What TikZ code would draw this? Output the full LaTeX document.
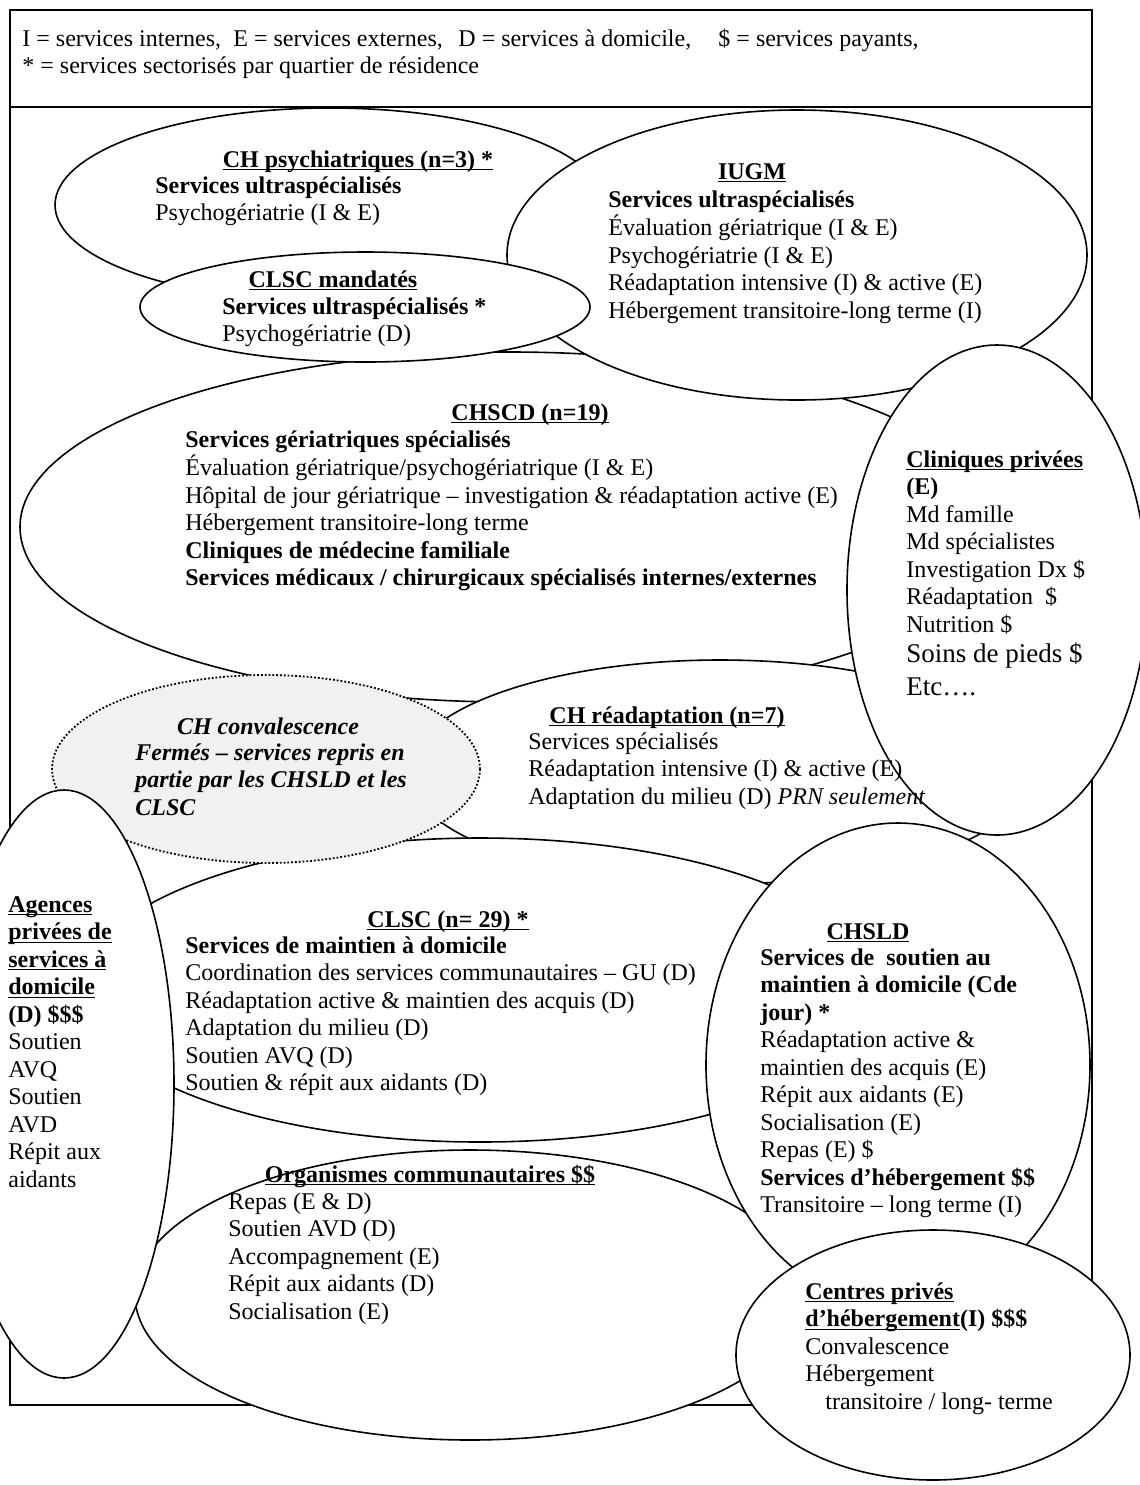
\documentclass[tikz,border=0pt]{standalone}
\usepackage{fontspec}
\setmainfont{Liberation Serif}
\usepackage{tikz}
\usetikzlibrary{positioning}

\newcommand{\lignes}[1]{\begin{tabular}[t]{@{}l@{}}#1\end{tabular}}
\newcommand{\souligne}[1]{\underline{\smash{#1}}}

\begin{document}
\begin{tikzpicture}[x=0.5pt, y=-0.5pt,
    font=\fontsize{12}{13.75}\selectfont,
    cadre/.style={draw, line width=1.3pt, fill=white},
    zone/.style={draw, line width=0.8pt, fill=white},
    ferme/.style={draw, densely dotted, line width=0.9pt, fill=gray!11},
    txt/.style={anchor=base west, inner sep=0pt},
    titre/.style={anchor=base, inner sep=0pt, font=\fontsize{12}{13.75}\selectfont\bfseries}
]
    \useasboundingbox (0,0) rectangle (1140,1485);
    \clip (0,0) rectangle (1140,1485);
    \path[cadre] (10,10) rectangle (1092,107);
    \path[cadre] (10,107) rectangle (1092,1405);

    \path[zone] (330,205) ellipse (275 and 97);
    \path[zone] (510,527) ellipse (490 and 175);
    \path[zone] (797,255) ellipse (290 and 145);
    \path[zone] (365,307) ellipse (225 and 55);
    \path[zone] (720,772) ellipse (312 and 112);
    \path[zone] (997,590) ellipse (150 and 245);
    \path[zone] (480,990) ellipse (400 and 152);
    \path[ferme] (266,769) ellipse (214 and 94);
    \path[zone] (470,1295) ellipse (335 and 145);
    \path[zone] (64,1084) ellipse (110 and 294);
    \path[zone] (898,1065) ellipse (192 and 242);
    \path[zone] (933,1355) ellipse (197 and 125);

    \node[txt] (legende) at (22,46) {\lignes{\makebox[105.5pt][l]{I = services internes,}\makebox[112.5pt][l]{E = services externes,}\makebox[130pt][l]{D = services à domicile,}\$ = services payants,\\{}* = services sectorisés par quartier de résidence}};

    \node[titre] (psyT) at (358,167) {\souligne{CH psychiatriques (n=3) *}};
    \node[txt] (psy) at (155,193) {\lignes{\textbf{Services ultraspécialisés}\\Psychogériatrie (I \& E)}};

    \node[titre] (iugmT) at (752,179) {\souligne{IUGM}};
    \node[txt] (iugm) at (608,207) {\lignes{\textbf{Services ultraspécialisés}\\Évaluation gériatrique (I \& E)\\Psychogériatrie (I \& E)\\Réadaptation intensive (I) \& active (E)\\Hébergement transitoire-long terme (I)}};

    \node[titre] (mandT) at (333,287) {\souligne{CLSC mandatés}};
    \node[txt] (mand) at (222,314) {\lignes{\textbf{Services ultraspécialisés *}\\Psychogériatrie (D)}};

    \node[titre] (chscdT) at (530,420) {\souligne{CHSCD (n=19)}};
    \node[txt] (chscd) at (185,447) {\lignes{\textbf{Services gériatriques spécialisés}\\Évaluation gériatrique/psychogériatrique (I \& E)\\Hôpital de jour gériatrique – investigation \& réadaptation active (E)\\Hébergement transitoire-long terme\\\textbf{Cliniques de médecine familiale}\\\textbf{Services médicaux / chirurgicaux spécialisés internes/externes}}};

    \node[txt] (clin) at (906,467) {\lignes{\textbf{\souligne{Cliniques privées}}\\\textbf{(E)}\\Md famille\\Md spécialistes\\Investigation Dx \$\\Réadaptation\ \ \$\\Nutrition \$\\[1.5pt]\fontsize{13.5}{16.5}\selectfont Soins de pieds \$\\[2.5pt]\fontsize{13.5}{16.5}\selectfont Etc….}};

    \node[titre, font=\fontsize{12}{13.75}\selectfont\bfseries\itshape] (convT) at (268,734) {CH convalescence};
    \node[txt, font=\fontsize{12}{13.75}\selectfont\bfseries\itshape] (conv) at (135,760) {\lignes{Fermés – services repris en\\partie par les CHSLD et les\\CLSC}};

    \node[titre] (readT) at (667,723) {\souligne{CH réadaptation (n=7)}};
    \node[txt] (read) at (528,749) {\lignes{Services spécialisés\\Réadaptation intensive (I) \& active (E)\\Adaptation du milieu (D) \textit{PRN seulement}}};

    \node[txt] (agen) at (8,912) {\lignes{\textbf{\souligne{Agences}}\\\textbf{\souligne{privées de}}\\\textbf{\souligne{services à}}\\\textbf{\souligne{domicile}}\\\textbf{(D) \$\$\$}\\Soutien\\AVQ\\Soutien\\AVD\\Répit aux\\aidants}};

    \node[titre] (clscT) at (448,927) {\souligne{CLSC (n= 29) *}};
    \node[txt] (clsc) at (185,953) {\lignes{\textbf{Services de maintien à domicile}\\Coordination des services communautaires – GU (D)\\Réadaptation active \& maintien des acquis (D)\\Adaptation du milieu (D)\\Soutien AVQ (D)\\Soutien \& répit aux aidants (D)}};

    \node[titre] (chsldT) at (868,939) {\souligne{CHSLD}};
    \node[txt] (chsld) at (760,965) {\lignes{\textbf{Services de\ \ soutien au}\\\textbf{maintien à domicile (Cde}\\\textbf{jour) *}\\Réadaptation active \&\\maintien des acquis (E)\\Répit aux aidants (E)\\Socialisation (E)\\Repas (E) \$\\\textbf{Services d’hébergement \$\$}\\Transitoire – long terme (I)}};

    \node[titre] (orgaT) at (430,1182) {\souligne{Organismes communautaires \$\$}};
    \node[txt] (orga) at (228,1209) {\lignes{Repas (E \& D)\\Soutien AVD (D)\\Accompagnement (E)\\Répit aux aidants (D)\\Socialisation (E)}};

    \node[txt] (cent) at (805,1299) {\lignes{\textbf{\souligne{Centres privés}}\\\textbf{\souligne{d’hébergement}(I) \$\$\$}\\Convalescence\\Hébergement\\\hspace*{10pt}transitoire / long- terme}};
\end{tikzpicture}
\end{document}
